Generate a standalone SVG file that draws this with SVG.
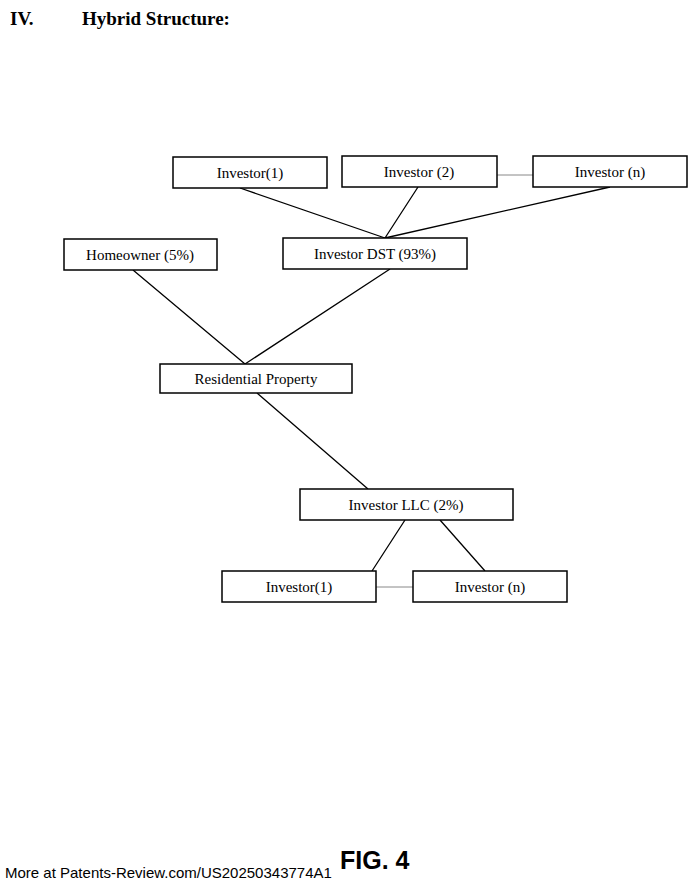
<svg xmlns="http://www.w3.org/2000/svg" width="697" height="888" viewBox="0 0 697 888">
<style>
.b{fill:#fff;stroke:#000;stroke-width:1.5}
.t{font-family:"Liberation Serif",serif;font-size:15px;text-anchor:middle}
.c{stroke:#000;stroke-width:1.3;fill:none}
.g{stroke:#888;stroke-width:1;fill:none}
</style>
<rect width="697" height="888" fill="#fff"/>
<text x="10" y="25" font-family="Liberation Serif,serif" font-size="19" font-weight="bold">IV.</text>
<text x="82" y="25" font-family="Liberation Serif,serif" font-size="19" font-weight="bold">Hybrid Structure:</text>
<g id="connectors">
<path class="c" d="M240 188L385 238M418 187L385 238M610 187L385 238M133 270L245 364M390 269L245 364M257 393L368 489M405 520L372 571M440 520L485 571"/>
<path class="g" d="M497 175H533M376 587H413"/>
</g>
<g id="inv1"><rect class="b" x="173" y="157" width="154" height="31"/><text class="t" x="250" y="178">Investor(1)</text></g>
<g id="inv2"><rect class="b" x="342" y="156" width="155" height="31"/><text class="t" x="419" y="177">Investor (2)</text></g>
<g id="invn"><rect class="b" x="533" y="156" width="154" height="31"/><text class="t" x="610" y="177">Investor (n)</text></g>
<g id="homeowner"><rect class="b" x="64" y="239" width="153" height="31"/><text class="t" x="140" y="260">Homeowner (5%)</text></g>
<g id="dst"><rect class="b" x="283" y="238" width="184" height="31"/><text class="t" x="375" y="259">Investor DST (93%)</text></g>
<g id="residential"><rect class="b" x="160" y="364" width="192" height="29"/><text class="t" x="256" y="384" font-size="14">Residential Property</text></g>
<g id="llc"><rect class="b" x="300" y="489" width="213" height="31"/><text class="t" x="406" y="510">Investor LLC (2%)</text></g>
<g id="llcinv1"><rect class="b" x="222" y="571" width="154" height="31"/><text class="t" x="299" y="592">Investor(1)</text></g>
<g id="llcinvn"><rect class="b" x="413" y="571" width="154" height="31"/><text class="t" x="490" y="592">Investor (n)</text></g>
<text x="340" y="869" font-family="Liberation Sans,sans-serif" font-size="25" font-weight="bold">FIG. 4</text>
<text x="5" y="878" font-family="Liberation Sans,sans-serif" font-size="15">More at Patents-Review.com/US20250343774A1</text>
</svg>
